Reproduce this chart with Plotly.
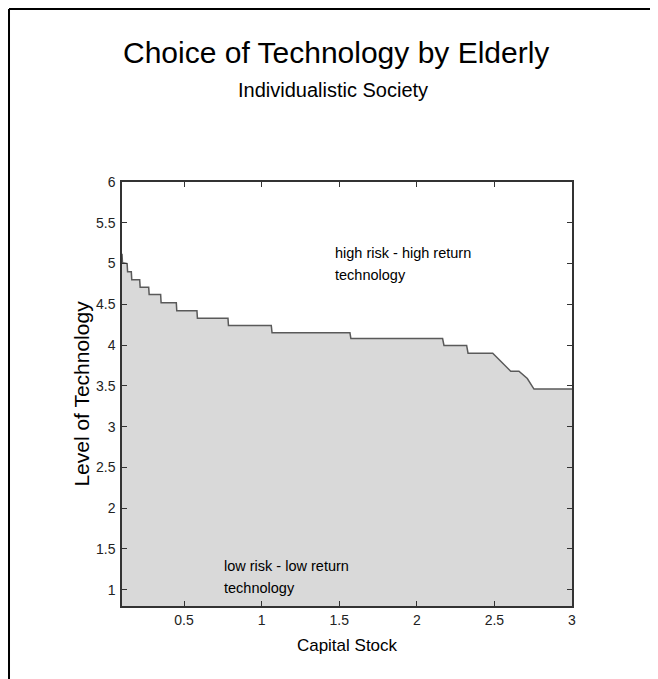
import plotly.graph_objects as go

# Boundary between the two technology regions
capital_stock = [0.100, 0.103, 0.133, 0.136, 0.160, 0.163, 0.214, 0.217, 0.272, 0.275,
                 0.349, 0.352, 0.450, 0.453, 0.583, 0.586, 0.783, 0.786, 1.062, 1.067,
                 1.569, 1.575, 2.166, 2.175, 2.321, 2.330, 2.489, 2.605, 2.658, 2.712,
                 2.755, 3.000]
tech_level = [5.12, 5.01, 5.00, 4.90, 4.90, 4.80, 4.80, 4.71, 4.71, 4.62,
              4.62, 4.52, 4.52, 4.42, 4.42, 4.33, 4.33, 4.24, 4.24, 4.15,
              4.15, 4.08, 4.08, 3.995, 3.995, 3.90, 3.90, 3.68, 3.68, 3.59,
              3.46, 3.46]

x_ticks = [0.5, 1, 1.5, 2, 2.5, 3]
x_tick_labels = ["0.5", "1", "1.5", "2", "2.5", "3"]
y_ticks = [1, 1.5, 2, 2.5, 3, 3.5, 4, 4.5, 5, 5.5, 6]
y_tick_labels = ["1", "1.5", "2", "2.5", "3", "3.5", "4", "4.5", "5", "5.5", "6"]

FONT = "Liberation Sans, Arial, sans-serif"

fig = go.Figure()
fig.add_trace(go.Scatter(
    x=capital_stock, y=tech_level, mode="lines",
    fill="tozeroy", fillcolor="#d9d9d9",
    line=dict(color="#5a5a5a", width=1.5),
    hoverinfo="skip", showlegend=False,
))

ann_font = dict(family=FONT, size=14.5, color="#000")
fig.add_annotation(x=1.46, y=5.13, xref="x", yref="y", xanchor="left", yanchor="middle",
                   text="high risk - high return", showarrow=False, font=ann_font)
fig.add_annotation(x=1.46, y=4.86, xref="x", yref="y", xanchor="left", yanchor="middle",
                   text="technology", showarrow=False, font=ann_font)
fig.add_annotation(x=0.744, y=1.29, xref="x", yref="y", xanchor="left", yanchor="middle",
                   text="low risk - low return", showarrow=False, font=ann_font)
fig.add_annotation(x=0.744, y=1.02, xref="x", yref="y", xanchor="left", yanchor="middle",
                   text="technology", showarrow=False, font=ann_font)

# titles
fig.add_annotation(x=0.476, y=1.3066, xref="paper", yref="paper",
                   xanchor="center", yanchor="middle",
                   text="Choice of Technology by Elderly", showarrow=False,
                   font=dict(family=FONT, size=30, color="#000"))
fig.add_annotation(x=0.469, y=1.217, xref="paper", yref="paper",
                   xanchor="center", yanchor="middle",
                   text="Individualistic Society", showarrow=False,
                   font=dict(family=FONT, size=20, color="#000"))

# frame lines at left and top of the image
fig.add_shape(type="line", xref="paper", yref="paper",
              x0=-0.2511, x1=-0.2511, y0=1.408, y1=-0.2, line=dict(color="#000", width=2))
fig.add_shape(type="line", xref="paper", yref="paper",
              x0=-0.2511, x1=1.2, y0=1.408, y1=1.408, line=dict(color="#000", width=2))

fig.update_layout(
    width=650, height=671,
    margin=dict(l=114, r=86, t=174, b=73),
    paper_bgcolor="white", plot_bgcolor="white",
    font=dict(family=FONT, color="#000"),
    xaxis=dict(range=[0.1, 3], tickvals=x_ticks, ticktext=x_tick_labels,
               ticks="inside", ticklen=5, tickcolor="#333", mirror="ticks",
               showline=True, linecolor="#333", linewidth=1.5, showgrid=False,
               zeroline=False, tickfont=dict(size=14, color="#222"),
               title=dict(text="Capital Stock", font=dict(size=17), standoff=13)),
    yaxis=dict(range=[0.8, 6], tickvals=y_ticks, ticktext=y_tick_labels,
               ticks="inside", ticklen=5, tickcolor="#333", mirror="ticks",
               showline=True, linecolor="#333", linewidth=1.5, showgrid=False,
               zeroline=False, tickfont=dict(size=14, color="#222"),
               ticklabelstandoff=2,
               title=dict(text="Level of Technology", font=dict(size=21), standoff=1)),
)

fig.write_html("out.html")
